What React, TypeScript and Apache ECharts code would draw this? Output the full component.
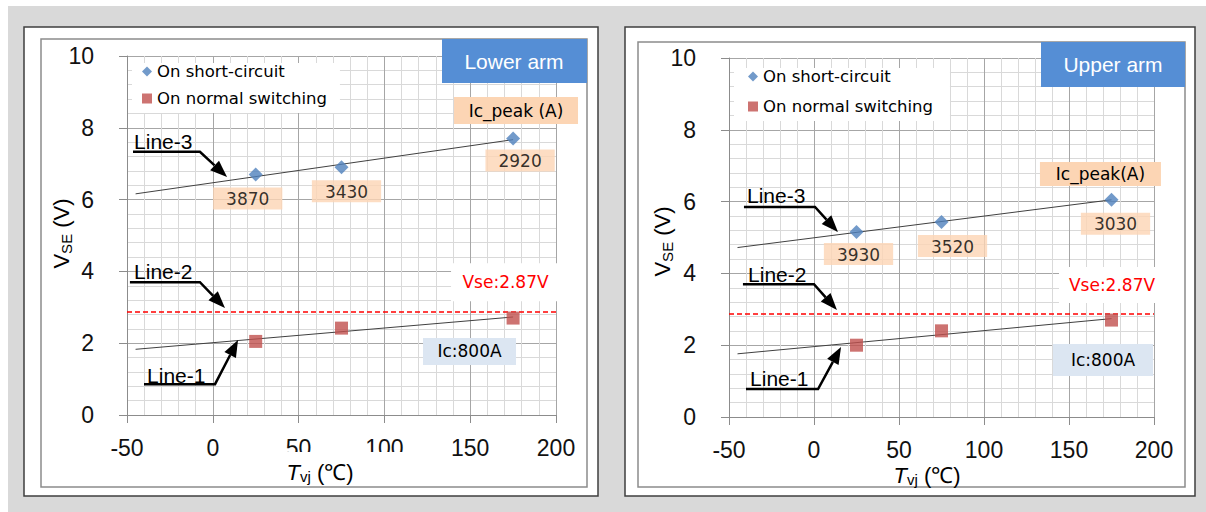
import React, { useEffect, useRef } from 'react';
import * as echarts from 'echarts';

// ---------- data ----------
const xTicks = [-50, 0, 50, 100, 150, 200];
const yTicks = [0, 2, 4, 6, 8, 10];
const temps = [25, 75, 175];

const lowerShortCircuit = [6.7, 6.9, 7.7];
const lowerNormal = [2.05, 2.42, 2.7];
const lowerIcPeak = [3870, 3430, 2920];

const upperShortCircuit = [5.15, 5.43, 6.05];
const upperNormal = [2.0, 2.4, 2.7];
const upperIcPeak = [3930, 3520, 3030];

const trendX = [-45, 175];
const lowerLine3 = [6.16, 7.67];
const lowerLine1 = [1.83, 2.73];
const upperLine3 = [4.72, 6.05];
const upperLine1 = [1.76, 2.74];

const vseLimit = 2.87;
const icCurrent = 800;

const SC_NAME = 'On short-circuit';
const NS_NAME = 'On normal switching';

// ---------- annotation layout (data coordinates / pixel nudges) ----------
const lowerLabelNudge = [[-8, 0], [5, 0], [7, -2]];
const upperLabelNudge = [[2, -2], [11, 0], [4, 0]];

const lowerArrows = [
  { text: 'Line-3', textAt: [-45.9, 7.63], path: [[-46.5, 7.33], [-7.5, 7.33], [8.3, 6.63]] },
  { text: 'Line-2', textAt: [-45.9, 4.01], path: [[-48.3, 3.7], [-7.5, 3.7], [7.1, 2.98]] },
  { text: 'Line-1', textAt: [-38.3, 1.11], path: [[-40.1, 0.86], [1.3, 0.86], [14.7, 2.09]] },
];
const upperArrows = [
  { text: 'Line-3', textAt: [-39.4, 6.16], path: [[-41.2, 5.85], [0.6, 5.85], [14.1, 5.15]] },
  { text: 'Line-2', textAt: [-38.8, 3.98], path: [[-41.8, 3.7], [0, 3.7], [13.5, 2.98]] },
  { text: 'Line-1', textAt: [-37.6, 1.06], path: [[-40, 0.78], [2.4, 0.78], [15.9, 1.95]] },
];
const PEACH = '#fcd5b4';
const lowerBoxes = [
  { text: 'Ic_peak (A)', at: [176.7, 8.48], w: 124, h: 27, fill: PEACH, color: '#000' },
  { text: `Vse:${vseLimit}V`, at: [170.6, 3.7], w: 109, h: 38, fill: '#fff', color: '#ff0000' },
  { text: `Ic:${icCurrent}A`, at: [149.6, 1.77], w: 93, h: 27, fill: '#dce6f2', color: '#000' },
];
const upperBoxes = [
  { text: 'Ic_peak(A)', at: [168.5, 6.77], w: 121, h: 24, fill: PEACH, color: '#000' },
  { text: `Vse:${vseLimit}V`, at: [175.3, 3.68], w: 106, h: 36, fill: '#fff', color: '#ff0000' },
  { text: `Ic:${icCurrent}A`, at: [170, 1.59], w: 100, h: 32, fill: '#dce6f2', color: '#000' },
];

const SANS = 'Liberation Sans, Arial, sans-serif';
const VERD = 'DejaVu Sans, Verdana, sans-serif';

function axesFor(gridIndex: number) {
  const common = {
    type: 'value', gridIndex,
    axisLine: { show: true, onZero: false, lineStyle: { color: '#8c8c8c', width: 1 } },
    axisTick: { show: true, length: 8, lineStyle: { color: '#8c8c8c' } },
    splitLine: { show: true, lineStyle: { color: '#a6a6a6', width: 1 } },
    minorTick: { show: false, splitNumber: 5 },
    minorSplitLine: { show: true, lineStyle: { color: '#d9d9d9', width: 1 } },
  };
  const x = {
    ...common,
    min: xTicks[0], max: xTicks[xTicks.length - 1], interval: xTicks[1] - xTicks[0],
    axisLabel: { fontSize: 23, fontFamily: SANS, color: '#111', margin: 21 },
  };
  const y = {
    ...common,
    min: yTicks[0], max: yTicks[yTicks.length - 1], interval: yTicks[1] - yTicks[0],
    axisLabel: { fontSize: 23, fontFamily: SANS, color: '#111', margin: 33 },
  };
  return { x, y };
}

function annotationSeries(gridIndex: number, arrows: any[], boxes: any[]) {
  const items: any[] = [
    ...arrows.map((a) => ({ kind: 'arrow', ...a })),
    ...boxes.map((b) => ({ kind: 'box', ...b })),
  ];
  return {
    type: 'custom',
    xAxisIndex: gridIndex,
    yAxisIndex: gridIndex,
    silent: true,
    z: 5,
    data: items.map((it) => (it.kind === 'arrow' ? it.path[0] : it.at)),
    renderItem: (params: any, api: any) => {
      const it = items[params.dataIndex];
      if (it.kind === 'arrow') {
        const pts = it.path.map((p: number[]) => api.coord(p));
        const tip = pts[pts.length - 1];
        const prev = pts[pts.length - 2];
        const dx = tip[0] - prev[0];
        const dy = tip[1] - prev[1];
        const len = Math.hypot(dx, dy);
        const ux = dx / len;
        const uy = dy / len;
        const headLen = 17;
        const headW = 6.5;
        const base = [tip[0] - ux * headLen, tip[1] - uy * headLen];
        const linePts = [...pts.slice(0, -1), base];
        const tp = api.coord(it.textAt);
        return {
          type: 'group',
          children: [
            { type: 'polyline', shape: { points: linePts }, style: { stroke: '#000', lineWidth: 2.5, fill: 'none' } },
            {
              type: 'polygon',
              shape: { points: [tip, [base[0] - uy * headW, base[1] + ux * headW], [base[0] + uy * headW, base[1] - ux * headW]] },
              style: { fill: '#000', stroke: 'none' },
            },
            {
              type: 'text', x: tp[0], y: tp[1],
              style: { text: it.text, fontSize: 21, fontFamily: SANS, fill: '#000', align: 'left', verticalAlign: 'middle' },
            },
          ],
        };
      }
      const c = api.coord(it.at);
      return {
        type: 'group',
        children: [
          { type: 'rect', shape: { x: c[0] - it.w / 2, y: c[1] - it.h / 2, width: it.w, height: it.h }, style: { fill: it.fill, stroke: 'none' } },
          {
            type: 'text', x: c[0], y: c[1],
            style: { text: it.text, fontSize: 17, fontFamily: VERD, fill: it.color, align: 'center', verticalAlign: 'middle' },
          },
        ],
      };
    },
  };
}

function panelSeries(gridIndex: number, sc: number[], ns: number[], icPeak: number[], nudge: number[][], l3: number[], l1: number[], arrows: any[], boxes: any[]) {
  return [
    {
      name: 'Line-3', type: 'line', xAxisIndex: gridIndex, yAxisIndex: gridIndex, silent: true,
      symbol: 'none', data: trendX.map((x, k) => [x, l3[k]]),
      lineStyle: { color: '#404040', width: 1 },
    },
    {
      name: 'Line-1', type: 'line', xAxisIndex: gridIndex, yAxisIndex: gridIndex, silent: true,
      symbol: 'none', data: trendX.map((x, k) => [x, l1[k]]),
      lineStyle: { color: '#404040', width: 1 },
    },
    {
      name: 'Line-2', type: 'line', xAxisIndex: gridIndex, yAxisIndex: gridIndex, silent: true,
      symbol: 'none', data: [xTicks[0], xTicks[xTicks.length - 1]].map((x) => [x, vseLimit]),
      lineStyle: { color: '#ff0000', width: 1.5, type: [5, 3] },
    },
    annotationSeries(gridIndex, arrows, boxes),
    {
      name: SC_NAME, type: 'scatter', xAxisIndex: gridIndex, yAxisIndex: gridIndex,
      symbol: 'diamond', symbolSize: 14, z: 6,
      itemStyle: { color: '#4f81bd' },
      data: temps.map((t, k) => ({ value: [t, sc[k]], label: { offset: nudge[k] } })),
      label: {
        show: true, position: 'bottom', distance: 6,
        formatter: (p: any) => String(icPeak[p.dataIndex]),
        backgroundColor: PEACH, padding: [3, 13, 2, 13],
        fontSize: 17, fontFamily: VERD, color: '#000',
      },
    },
    {
      name: NS_NAME, type: 'scatter', xAxisIndex: gridIndex, yAxisIndex: gridIndex,
      symbol: 'rect', symbolSize: 13, z: 6,
      itemStyle: { color: '#c0504d' },
      data: temps.map((t, k) => [t, ns[k]]),
    },
  ];
}

function axisTitles(cx: number, cy: number, yx: number, yy: number) {
  const base = { fontFamily: SANS, fill: '#000' };
  return [
    {
      type: 'text', x: cx, y: cy, z: 51,
      style: {
        text: '{t|T}{s|vj}{n| (℃)}', align: 'center', verticalAlign: 'middle',
        rich: {
          t: { ...base, fontSize: 22, lineHeight: 22, fontStyle: 'italic' },
          s: { ...base, fontSize: 15, lineHeight: 15, padding: [8, 0, 0, 0] },
          n: { ...base, fontSize: 22, lineHeight: 22 },
        },
      },
    },
    {
      type: 'text', x: yx, y: yy, z: 51, rotation: Math.PI / 2,
      style: {
        text: '{t|V}{s|SE}{n| (V)}', align: 'center', verticalAlign: 'middle',
        rich: {
          t: { ...base, fontSize: 22 },
          s: { ...base, fontSize: 15, padding: [10, 0, 0, 0] },
          n: { ...base, fontSize: 22 },
        },
      },
    },
  ];
}

function buildOption() {
  const a0 = axesFor(0);
  const a1 = axesFor(1);
  const legendBase = {
    orient: 'vertical', data: [SC_NAME, NS_NAME], backgroundColor: '#fff',
    itemWidth: 10, itemHeight: 10, selectedMode: false,
    textStyle: { fontSize: 16.5, fontFamily: VERD, color: '#000' },
  };
  return {
    animation: false,
    grid: [
      { left: 127, top: 56, width: 429, height: 359 },
      { left: 729, top: 58, width: 425, height: 359 },
    ],
    xAxis: [a0.x, a1.x],
    yAxis: [a0.y, a1.y],
    legend: [
      { ...legendBase, left: 132, top: 63, padding: [0, 13, 6, 10], itemGap: 10 },
      { ...legendBase, left: 734, top: 68, padding: [0, 17, 6, 14], itemGap: 13 },
    ],
    graphic: [
      { type: 'rect', z: -10, silent: true, shape: { x: 8, y: 6, width: 1198, height: 506 }, style: { fill: '#d9d9d9' } },
      { type: 'rect', z: -9, silent: true, shape: { x: 24, y: 27, width: 574, height: 469 }, style: { fill: '#fff', stroke: '#3f3f3f', lineWidth: 1.5 } },
      { type: 'rect', z: -8, silent: true, shape: { x: 41, y: 39, width: 546, height: 448 }, style: { fill: 'none', stroke: '#8c8c8c', lineWidth: 1.5 } },
      { type: 'rect', z: -9, silent: true, shape: { x: 625, y: 27, width: 570, height: 469 }, style: { fill: '#fff', stroke: '#3f3f3f', lineWidth: 1.5 } },
      { type: 'rect', z: -8, silent: true, shape: { x: 638, y: 42, width: 547, height: 445 }, style: { fill: 'none', stroke: '#8c8c8c', lineWidth: 1.5 } },
      { type: 'rect', z: 100, silent: true, shape: { x: 442, y: 39, width: 145, height: 44 }, style: { fill: '#558ed5' } },
      { type: 'text', z: 101, silent: true, x: 514, y: 61, style: { text: 'Lower arm', fontSize: 21, fontFamily: SANS, fill: '#fff', align: 'center', verticalAlign: 'middle' } },
      { type: 'rect', z: 100, silent: true, shape: { x: 1041, y: 42, width: 144, height: 45 }, style: { fill: '#558ed5' } },
      { type: 'text', z: 101, silent: true, x: 1113, y: 64.5, style: { text: 'Upper arm', fontSize: 21, fontFamily: SANS, fill: '#fff', align: 'center', verticalAlign: 'middle' } },
      { type: 'rect', z: 50, silent: true, shape: { x: 240, y: 452, width: 200, height: 32 }, style: { fill: '#fff' } },
      ...axisTitles(320, 472, 61, 233.5),
      ...axisTitles(927, 475, 662, 241.5),
    ],
    series: [
      ...panelSeries(0, lowerShortCircuit, lowerNormal, lowerIcPeak, lowerLabelNudge, lowerLine3, lowerLine1, lowerArrows, lowerBoxes),
      ...panelSeries(1, upperShortCircuit, upperNormal, upperIcPeak, upperLabelNudge, upperLine3, upperLine1, upperArrows, upperBoxes),
    ],
  };
}

export default function App() {
  const ref = useRef<HTMLDivElement>(null);
  useEffect(() => {
    if (!ref.current) return;
    const chart = echarts.init(ref.current, null, { renderer: 'svg' });
    chart.setOption(buildOption() as any);
    return () => chart.dispose();
  }, []);
  return (
    <div
      ref={ref}
      style={{ position: 'fixed', left: 0, top: 0, width: 1206, height: 512, background: '#fff' }}
    />
  );
}
